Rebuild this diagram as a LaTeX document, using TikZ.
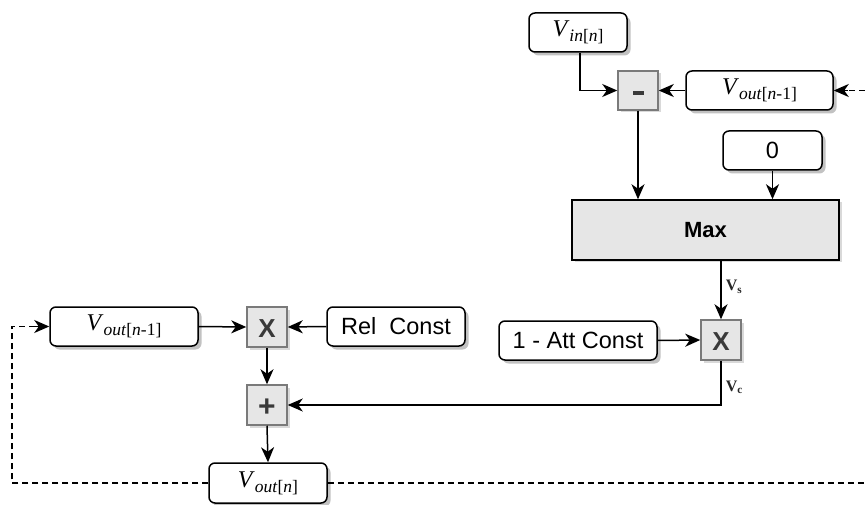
\documentclass[tikz,border=0pt]{standalone}
\usepackage{fontspec}
\setmainfont{Liberation Serif}
\setsansfont{Liberation Sans}
\usetikzlibrary{arrows.meta,shadows}

\definecolor{opfill}{HTML}{E6E6E6}
\definecolor{opedge}{HTML}{7A7A7A}
\definecolor{optext}{HTML}{3A3A3A}

% italic V with a small sub-label such as in[n] or out[n-1]
\newcommand{\vsub}[1]{\textit{V}\raisebox{-5pt}{\fontsize{17.5}{17.5}\selectfont #1}}

\tikzset{
  x=1pt, y=-1pt,
  tip/.tip={Stealth[length=15pt,width=13pt,inset=4.5pt]},
  wire/.style={line width=1.5pt, -tip},
  feedback/.style={line width=1.3pt, dash pattern=on 6pt off 4pt},
  valbox/.style={draw, line width=1.5pt, rounded corners=6pt, fill=white,
    minimum height=39pt, inner sep=0pt,
    drop shadow={shadow xshift=3.5pt, shadow yshift=-3.5pt, opacity=0.4, fill=black!60}},
  opbox/.style={draw=opedge, line width=1.5pt, fill=opfill, minimum width=40pt,
    minimum height=40pt, inner sep=0pt, text=optext,
    drop shadow={shadow xshift=2.5pt, shadow yshift=-2.5pt, opacity=0.25, fill=black!60}},
  opsign/.style={text=optext, inner sep=0pt, font=\sffamily\bfseries\fontsize{26}{26}\selectfont},
  sans/.style={font=\sffamily\fontsize{23.5}{26}\selectfont},
  serif/.style={font=\rmfamily\fontsize{24}{26}\selectfont},
  tag/.style={font=\rmfamily\bfseries\fontsize{16}{16}\selectfont, text=black!85, inner sep=1pt, anchor=west}
}

\begin{document}
\begin{tikzpicture}
\useasboundingbox (0,0) rectangle (865,505);
\clip (0,0) rectangle (865,505);

% upper branch: difference and max
\node[valbox, serif, minimum width=98pt] (vin) at (578,32.5) {\vsub{\textit{in}[\textit{n}]}};
\node[opbox, minimum height=39pt] (minus) at (638,90.5) {};
\fill[optext] ([xshift=-5.5pt,yshift=-5pt]minus.center) rectangle ([xshift=5.5pt,yshift=-1pt]minus.center);
\node[valbox, serif, minimum width=147pt] (vtop) at (759.5,90.5) {\vsub{\textit{out}[\textit{n}-1]}};
\node[valbox, sans, minimum width=99pt] (zero) at (772.5,150.5) {0};
\node[draw, line width=1.5pt, fill=opfill, minimum width=267pt, minimum height=60pt,
      drop shadow={shadow xshift=2.5pt, shadow yshift=-2.5pt, opacity=0.25, fill=black!60},
      font=\sffamily\bfseries\fontsize{22}{22}\selectfont] (max) at (705.5,230) {Max};

% attack product
\node[opbox] (xr) at (721,340) {};
\node[opsign] at ([yshift=-2pt]xr.center) {X};
\node[valbox, sans, minimum width=158pt] (att) at (578,340.5) {1 - Att Const};

% release product and sum
\node[valbox, serif, minimum width=148pt] (vleft) at (124,326.5) {\vsub{\textit{out}[\textit{n}-1]}};
\node[opbox] (xl) at (267,327) {};
\node[opsign] at ([yshift=-2pt]xl.center) {X};
\node[valbox, sans, minimum width=138pt] (rel) at (396,326.5) {Rel\ \ Const};
\node[opbox] (plus) at (267,405) {};
\node[opsign, font=\sffamily\bfseries\fontsize{30}{30}\selectfont] at ([yshift=-3pt]plus.center) {+};
\node[valbox, serif, minimum width=118pt, minimum height=40pt] (vout) at (268,483) {\vsub{\textit{out}[\textit{n}]}};

% connectors
\draw[wire] ([xshift=2pt]vin.south) |- (minus.west);
\draw[wire] (vtop.west) -- (minus.east);
\draw[wire] (minus.south) -- (minus.south |- max.north);
\draw[wire] (zero.south) -- (zero.south |- max.north);
\draw[wire] (xr.north |- max.south) -- node[tag, pos=0.45, xshift=3pt] {V\textsubscript{s}} (xr.north);
\draw[wire] (att.east) -- (xr.west);
\coordinate (bend) at (xr.south |- plus.east);
\draw[wire] (xr.south) -- node[tag, pos=0.6, xshift=3pt] {V\textsubscript{c}} (bend) -- (plus.east);
\draw[wire] (vleft.east) -- (xl.west);
\draw[wire] (rel.west) -- (xl.east);
\draw[wire] (xl.south) -- (plus.north);
\draw[wire] (plus.south) -- (vout.north);

% feedback of the output sample
\coordinate (fbl) at (12,483);
\coordinate (fbr) at (885,483);
\draw[feedback] (vout.west) -- (fbl) |- ([xshift=-2pt]vleft.west);
\draw[wire] ([xshift=-14pt]vleft.west) -- (vleft.west);
\draw[feedback] (vout.east) -- (fbr) |- ([xshift=14pt]vtop.east);
\draw[wire] ([xshift=14pt]vtop.east) -- (vtop.east);
\end{tikzpicture}
\end{document}
